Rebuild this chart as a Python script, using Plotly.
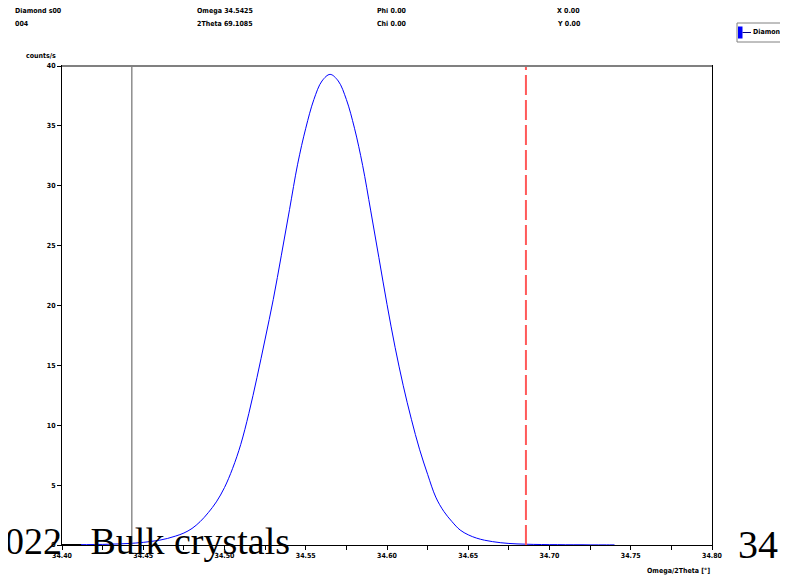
import plotly.graph_objects as go

# scan: omega/2theta vs counts/s
omega_2theta = [
    34.400, 34.405, 34.410, 34.415, 34.420, 34.425, 34.430, 34.435, 34.440, 34.445,
    34.450, 34.455, 34.460, 34.465, 34.470, 34.475, 34.480, 34.485, 34.490, 34.495,
    34.500, 34.505, 34.510, 34.515, 34.520, 34.525, 34.530, 34.535, 34.540, 34.545,
    34.550, 34.555, 34.560, 34.565, 34.570, 34.575, 34.580, 34.585, 34.590, 34.595,
    34.600, 34.605, 34.610, 34.615, 34.620, 34.625, 34.630, 34.635, 34.640, 34.645,
    34.650, 34.655, 34.660, 34.665, 34.670, 34.675, 34.680, 34.685, 34.690, 34.695,
    34.700, 34.705, 34.710, 34.715, 34.720, 34.725, 34.730, 34.735, 34.740,
]
counts = [
    0.02, 0.02, 0.03, 0.03, 0.04, 0.05, 0.07, 0.09, 0.12, 0.16,
    0.22, 0.30, 0.40, 0.55, 0.75, 1.00, 1.38, 1.95, 2.70, 3.60,
    4.80, 6.40, 8.40, 11.0, 14.0, 17.2, 20.5, 24.2, 28.0, 31.8,
    34.8, 37.2, 38.75, 39.3, 38.75, 37.2, 34.8, 31.7, 27.9, 24.0,
    20.1, 16.5, 13.3, 10.5, 8.0, 5.9, 4.0, 2.8, 1.95, 1.25,
    0.85, 0.58, 0.40, 0.28, 0.19, 0.13, 0.09, 0.07, 0.05, 0.04,
    0.03, 0.03, 0.02, 0.02, 0.02, 0.01, 0.01, 0.01, 0.01,
]

cursor_solid = 34.443
cursor_dashed = 34.6855

x_ticks = [34.40, 34.45, 34.50, 34.55, 34.60, 34.65, 34.70, 34.75, 34.80]
x_labels = ["34.40", "34.45", "34.50", "34.55", "34.60", "34.65", "34.70", "34.75", "34.80"]
y_ticks = [0, 5, 10, 15, 20, 25, 30, 35, 40]

header_lines = [
    ("Diamond s00", "004"),
    ("Omega 34.5425", "2Theta 69.1085"),
    ("Phi 0.00", "Chi 0.00"),
    ("X 0.00", "Y 0.00"),
]
header_x = [13, 195, 375, 555]

# page body has an 8px margin, so the figure sits at (8, 8) on screen
OFF = 8
W, H = 788 - OFF, 577 - OFF
L, T = 62 - OFF, 66 - OFF
pw, ph = 650, 479
R, B = W - L - pw, H - T - ph

small = dict(family="DejaVu Sans Condensed", size=7, color="black", weight="bold")

def px_x(p):  # screen pixel -> paper
    return (p - OFF - L) / pw

def px_y(p):
    return (T + ph - (p - OFF)) / ph

fig = go.Figure()
fig.add_trace(go.Scatter(x=omega_2theta, y=counts, mode="lines", name="Diamond s00",
                         line=dict(color="#0000ff", width=1), line_shape="spline"))

fig.add_vline(x=cursor_solid, line=dict(color="#555555", width=1))
fig.add_vline(x=cursor_dashed, line=dict(color="#ff5a5a", width=2, dash="20px,5px"))
# grey top edge of the frame
fig.add_shape(type="line", xref="paper", yref="paper", x0=0, x1=1, y0=1, y1=1,
              line=dict(color="#808080", width=2))

# small legend box at top right (partly off the page like the original)
fig.add_shape(type="rect", xref="paper", yref="paper", x0=px_x(737), x1=px_x(800),
              y0=px_y(42), y1=px_y(23), line=dict(color="#808080", width=1), fillcolor="white")
fig.add_shape(type="rect", xref="paper", yref="paper", x0=px_x(738), x1=px_x(742.5),
              y0=px_y(38.5), y1=px_y(26.5), line=dict(width=0), fillcolor="#0000ff")
fig.add_shape(type="line", xref="paper", yref="paper", x0=px_x(742.5), x1=px_x(751),
              y0=px_y(32.5), y1=px_y(32.5), line=dict(color="#000080", width=1))

annotations = []
for (l1, l2), hx in zip(header_lines, header_x):
    for txt, hy in ((l1, 11), (l2, 24)):
        annotations.append(dict(text=txt, x=px_x(hx), y=px_y(hy), xref="paper", yref="paper",
                                xanchor="left", yanchor="middle", showarrow=False, font=small))
annotations.append(dict(text="Diamond s00", x=px_x(751), y=px_y(32.5), xref="paper", yref="paper",
                        xanchor="left", yanchor="middle", showarrow=False, font=small))
annotations.append(dict(text="counts/s", x=px_x(58), y=px_y(56), xref="paper", yref="paper",
                        xanchor="right", yanchor="middle", showarrow=False, font=small))
annotations.append(dict(text="Omega/2Theta [°]", x=px_x(712), y=px_y(571), xref="paper", yref="paper",
                        xanchor="right", yanchor="middle", showarrow=False, font=small))
serif = dict(family="Liberation Serif", size=38, color="black")
annotations.append(dict(text="2022– Bulk crystals", x=px_x(-16), y=px_y(564), xref="paper", yref="paper",
                        xanchor="left", yanchor="bottom", showarrow=False, font=serif))
annotations.append(dict(text="34", x=px_x(736), y=px_y(569), xref="paper", yref="paper",
                        xanchor="left", yanchor="bottom", showarrow=False,
                        font=dict(family="Liberation Serif", size=40, color="black")))

fig.update_layout(
    width=W, height=H,
    margin=dict(l=L, r=R, t=T, b=B, pad=0, autoexpand=False),
    paper_bgcolor="white", plot_bgcolor="white",
    showlegend=False,
    annotations=annotations,
)
fig.update_xaxes(range=[34.40, 34.80], tickvals=x_ticks, ticktext=x_labels,
                 ticks="outside", ticklen=4, tickcolor="black", tickfont=small,
                 minor=dict(dtick=0.025, ticks="outside", ticklen=4, tickcolor="black"),
                 showgrid=False, zeroline=False, showline=True, linecolor="black",
                 linewidth=1, mirror=True)
fig.update_yaxes(range=[0, 40], tickvals=y_ticks, ticks="outside", ticklen=4,
                 tickcolor="black", tickfont=small, showgrid=False, zeroline=False,
                 showline=True, linecolor="black", linewidth=1, mirror=True)

fig.write_html("out.html")
